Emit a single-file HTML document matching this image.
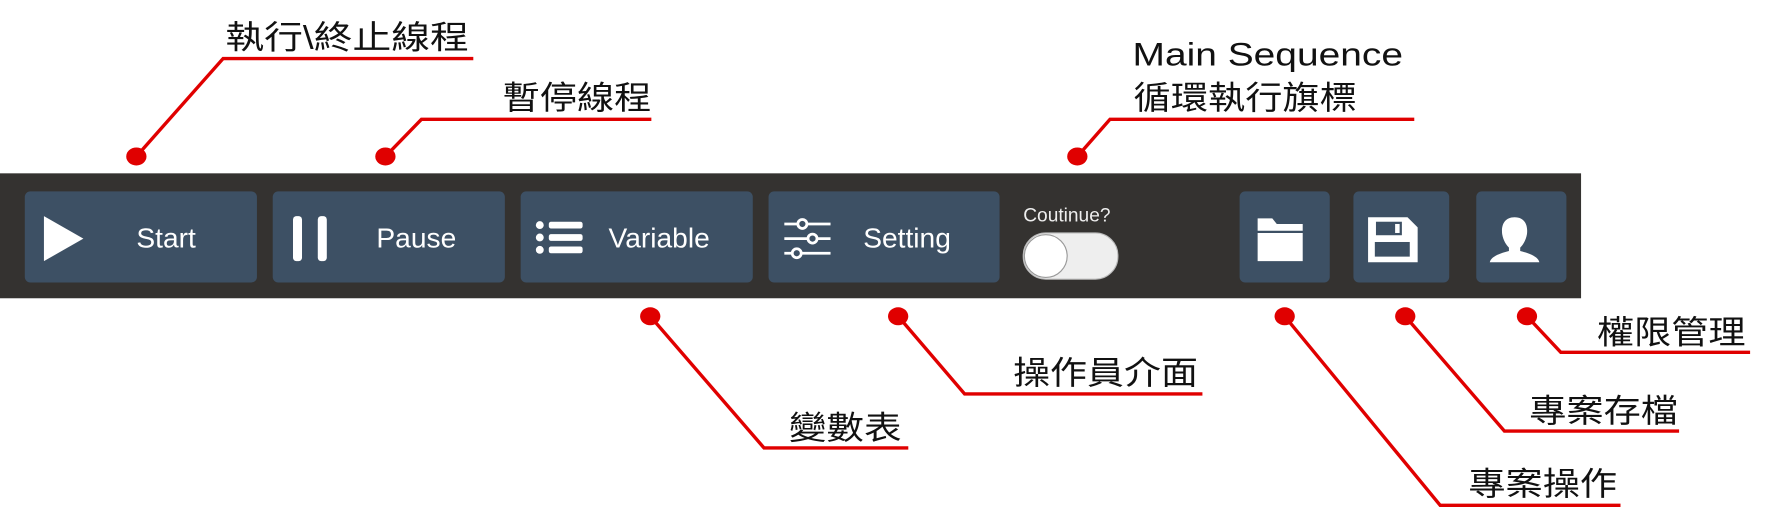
<!DOCTYPE html>
<html><head><meta charset="utf-8">
<style>
html,body{margin:0;padding:0;background:#fff;}
svg{display:block;}
.cn{font-family:"Liberation Sans","Noto Sans CJK TC",sans-serif;font-size:29px;fill:#111;}
.bt{font-family:"Liberation Sans","DejaVu Sans",sans-serif;font-size:25px;fill:#fff;}
</style></head>
<body>
<svg width="1767" height="529" viewBox="0 0 1568 470" preserveAspectRatio="none" xmlns="http://www.w3.org/2000/svg">
<rect x="0" y="154" width="1403" height="111" fill="#343230"/>
<g fill="#3d5064">
<rect x="22" y="170" width="206" height="81" rx="5"/>
<rect x="242" y="170" width="206" height="81" rx="5"/>
<rect x="462" y="170" width="206" height="81" rx="5"/>
<rect x="682" y="170" width="205" height="81" rx="5"/>
<rect x="1100" y="170" width="80" height="81" rx="5"/>
<rect x="1201" y="170" width="85" height="81" rx="5"/>
<rect x="1310" y="170" width="80" height="81" rx="5"/>
</g>
<polygon points="39,192 74,212 39,232" fill="#fff"/>
<rect x="260" y="192" width="8" height="40" rx="3" fill="#fff"/>
<rect x="282" y="192" width="8" height="40" rx="3" fill="#fff"/>
<g fill="#fff">
<circle cx="479" cy="200" r="3.5"/><circle cx="479" cy="211" r="3.5"/><circle cx="479" cy="222" r="3.5"/>
<rect x="487" y="197" width="30" height="6" rx="2"/><rect x="487" y="208" width="30" height="6" rx="2"/><rect x="487" y="219" width="30" height="6" rx="2"/>
</g>
<g stroke="#fff" stroke-width="2.5" fill="none">
<line x1="696" y1="199" x2="737" y2="199"/><line x1="696" y1="212" x2="737" y2="212"/><line x1="696" y1="225" x2="737" y2="225"/>
<circle cx="712" cy="199" r="4" fill="#3d5064"/><circle cx="721" cy="212" r="4" fill="#3d5064"/><circle cx="707" cy="225" r="4" fill="#3d5064"/>
</g>
<text class="bt" x="121" y="220">Start</text>
<text class="bt" x="334" y="220">Pause</text>
<text class="bt" x="540" y="220">Variable</text>
<text class="bt" x="766" y="220">Setting</text>
<text x="908" y="197" font-family="Liberation Sans,sans-serif" font-size="17" fill="#eee">Coutinue?</text>
<rect x="908" y="207" width="84" height="41" rx="20" fill="#eeeeee" stroke="#bbb"/>
<circle cx="928" cy="227.5" r="19" fill="#fff" stroke="#999"/>
<path d="M1116,194 h13 l4,5 h23 v6 h-40z M1116,207 h40 v25 h-40z" fill="#fff"/>
<path d="M1214,193 h35 l9,9 v31 h-44z" fill="#fff"/>
<rect x="1221" y="197" width="23" height="12" fill="#3d5064"/>
<rect x="1238" y="199" width="4" height="8" fill="#fff"/>
<rect x="1220" y="215" width="31" height="13" fill="#3d5064"/>
<path d="M1344,193 c-9,0 -12,7 -11,15 c1,6 4,10 6,12 v3 c-8,2 -16,5 -17,10 h44 c-1,-5 -9,-8 -17,-10 v-3 c2,-2 5,-6 6,-12 c1,-8 -2,-15 -11,-15z" fill="#fff"/>
<g stroke="#e00000" stroke-width="3" fill="none">
<polyline points="121,139 198,52 420,52"/>
<polyline points="342,139 374,106 578,106"/>
<polyline points="956,139 985,106 1255,106"/>
<polyline points="577,281 678,398 806,398"/>
<polyline points="797,281 856,350 1067,350"/>
<polyline points="1140,281 1278,449 1438,449"/>
<polyline points="1247,281 1335,383 1490,383"/>
<polyline points="1355,281 1385,313 1553,313"/>
</g>
<g fill="#e00000">
<ellipse cx="121" cy="139" rx="9" ry="8"/>
<ellipse cx="342" cy="139" rx="9" ry="8"/>
<ellipse cx="956" cy="139" rx="9" ry="8"/>
<ellipse cx="577" cy="281" rx="9" ry="8"/>
<ellipse cx="797" cy="281" rx="9" ry="8"/>
<ellipse cx="1140" cy="281" rx="9" ry="8"/>
<ellipse cx="1247" cy="281" rx="9" ry="8"/>
<ellipse cx="1355" cy="281" rx="9" ry="8"/>
</g>
<text class="cn" x="200" y="43" textLength="216" lengthAdjust="spacingAndGlyphs">執行\終止線程</text>
<text class="cn" x="446" y="97" textLength="132" lengthAdjust="spacingAndGlyphs">暫停線程</text>
<text class="cn" x="1005" y="58" textLength="240" lengthAdjust="spacingAndGlyphs" font-family="Liberation Sans,sans-serif">Main Sequence</text>
<text class="cn" x="1006" y="97" textLength="198" lengthAdjust="spacingAndGlyphs">循環執行旗標</text>
<text class="cn" x="700" y="390" textLength="100" lengthAdjust="spacingAndGlyphs">變數表</text>
<text class="cn" x="899" y="341" textLength="164" lengthAdjust="spacingAndGlyphs">操作員介面</text>
<text class="cn" x="1303" y="440" textLength="132" lengthAdjust="spacingAndGlyphs">專案操作</text>
<text class="cn" x="1357" y="375" textLength="132" lengthAdjust="spacingAndGlyphs">專案存檔</text>
<text class="cn" x="1417" y="305" textLength="132" lengthAdjust="spacingAndGlyphs">權限管理</text>
</svg>
</body></html>
